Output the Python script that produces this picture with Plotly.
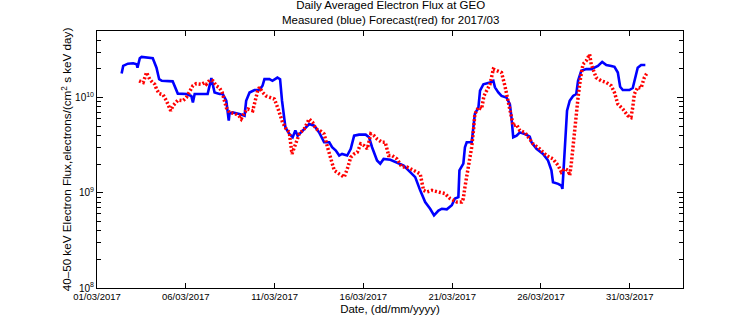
import pandas as pd
import plotly.graph_objects as go

# days since 2017-03-01 00:00 UT and flux (electrons/(cm^2 s keV day))
meas_days = [1.386, 1.476, 1.740, 2.04, 2.23, 2.28, 2.41, 2.51, 3.14, 3.35, 3.50, 3.65, 4.26, 4.47, 4.55,
             5.05, 5.31, 5.40, 5.50, 5.78, 6.23, 6.44, 6.62, 6.90, 7.07, 7.28, 7.42, 7.46, 7.63, 8.02,
             8.31, 8.40, 8.59, 8.87, 9.15, 9.32, 9.43, 9.71, 9.88, 10.16, 10.31, 10.42, 10.61, 10.83,
             11.02, 11.17, 11.30, 11.49, 11.95, 12.23, 12.51, 12.79, 13.08, 13.24, 13.45, 13.64, 13.80,
             14.09, 14.29, 14.48, 14.76, 15.13, 15.32, 15.49, 15.70, 15.77, 15.95, 16.14, 16.52, 16.89,
             17.27, 17.64, 17.92, 18.20, 18.48, 18.76, 18.98, 19.23, 19.42, 19.70, 19.98, 20.16, 20.35,
             20.41, 20.63, 20.72, 20.82, 21.10, 21.20, 21.28, 21.48, 21.57, 21.76, 22.13, 22.32, 22.41,
             22.60, 22.78, 23.06, 23.25, 23.34, 23.44, 23.63, 23.81, 24.09, 24.37, 24.47, 24.75, 25.12,
             25.40, 25.59, 25.68, 25.97, 26.15, 26.21, 26.28, 26.34, 26.47, 26.62, 26.81, 26.99, 27.09,
             27.27, 27.55, 27.83, 28.02, 28.21, 28.45, 28.68, 28.96, 29.14, 29.33, 29.46, 29.61, 29.98,
             30.17, 30.26, 30.45, 30.64, 30.88]
meas_flux = [17.9e9, 21.5e9, 22.7e9, 22.9e9, 22.4e9, 20.6e9, 25.9e9, 26.7e9, 25.9e9, 20.6e9, 15.6e9, 15.0e9,
             14.8e9, 11.8e9, 11.0e9, 10.9e9, 10.4e9, 8.9e9, 10.9e9, 10.9e9, 10.9e9, 16.0e9, 11.3e9, 10.9e9,
             11.0e9, 9.26e9, 5.72e9, 6.77e9, 6.98e9, 6.72e9, 6.45e9, 9.26e9, 11.3e9, 12.0e9, 12.0e9, 13.3e9,
             15.6e9, 15.6e9, 15.0e9, 16.2e9, 15.6e9, 9.26e9, 4.87e9, 4.15e9, 3.83e9, 4.50e9, 3.98e9, 4.31e9,
             5.28e9, 5.07e9, 4.31e9, 3.39e9, 3.39e9, 3.01e9, 2.78e9, 2.46e9, 2.56e9, 2.46e9, 2.89e9, 3.98e9,
             4.08e9, 4.08e9, 3.83e9, 3.01e9, 2.27e9, 2.18e9, 2.02e9, 2.27e9, 2.22e9, 2.09e9, 1.93e9, 1.65e9,
             1.46e9, 1.06e9, 0.80e9, 0.68e9, 0.58e9, 0.65e9, 0.68e9, 0.67e9, 0.74e9, 0.87e9, 0.90e9, 1.72e9,
             2.02e9, 3.01e9, 3.39e9, 3.39e9, 5.07e9, 6.72e9, 7.88e9, 11.8e9, 13.8e9, 14.4e9, 15.0e9, 12.8e9,
             11.3e9, 10.4e9, 10.0e9, 8.55e9, 6.19e9, 3.83e9, 3.98e9, 4.31e9, 4.15e9, 3.89e9, 3.39e9, 2.89e9,
             2.56e9, 2.18e9, 1.72e9, 1.29e9, 1.24e9, 1.19e9, 1.10e9, 1.86e9, 3.53e9, 7.28e9, 9.26e9, 10.4e9,
             10.9e9, 15.0e9, 19.1e9, 19.9e9, 19.9e9, 20.6e9, 21.5e9, 23.7e9, 22.0e9, 21.5e9, 21.0e9, 18.3e9,
             13.0e9, 12.0e9, 12.0e9, 12.6e9, 15.0e9, 20.6e9, 22.0e9, 22.0e9]

fcst_days = [2.37, 2.60, 2.79, 2.97, 3.13, 3.25, 3.35, 3.50, 3.72, 3.91, 4.15, 4.28, 4.56, 4.84, 5.03, 5.22,
             5.40, 5.59, 5.88, 6.06, 6.16, 6.34, 6.53, 6.72, 6.90, 7.05, 7.18, 7.28, 7.46, 7.74, 7.99, 8.12,
             8.31, 8.49, 8.77, 8.96, 9.05, 9.15, 9.33, 9.52, 9.80, 9.99, 10.17, 10.45, 10.65, 10.83, 10.98,
             11.21, 11.39, 11.67, 11.95, 12.14, 12.33, 12.61, 12.79, 12.98, 13.17, 13.36, 13.64, 13.92,
             14.10, 14.29, 14.48, 14.66, 14.85, 15.04, 15.22, 15.42, 15.60, 15.77, 16.05, 16.23, 16.33,
             16.42, 16.61, 16.89, 17.17, 17.45, 17.83, 18.20, 18.39, 18.57, 18.86, 19.23, 19.60, 19.88,
             20.26, 20.54, 20.63, 20.72, 20.92, 21.10, 21.20, 21.28, 21.48, 21.66, 21.79, 21.94, 22.13,
             22.32, 22.60, 22.78, 22.97, 23.16, 23.34, 23.44, 23.63, 23.81, 24.09, 24.37, 24.56, 24.93,
             25.31, 25.68, 25.97, 26.15, 26.34, 26.53, 26.62, 26.71, 26.81, 26.90, 26.99, 27.09, 27.22,
             27.37, 27.55, 27.74, 27.83, 28.11, 28.39, 28.68, 28.96, 29.14, 29.33, 29.61, 29.89, 30.07,
             30.17, 30.26, 30.45, 30.64, 30.82, 30.96]
fcst_flux = [15.0e9, 14.4e9, 18.3e9, 15.6e9, 14.4e9, 13.8e9, 12.3e9, 11.0e9, 10.7e9, 9.26e9, 7.28e9, 8.2e9,
             9.4e9, 9.26e9, 10.0e9, 11.8e9, 13.3e9, 14.0e9, 13.8e9, 14.4e9, 13.8e9, 15.2e9, 15.0e9, 13.3e9,
             12.6e9, 11.3e9, 9.26e9, 7.88e9, 6.98e9, 6.82e9, 6.45e9, 5.96e9, 6.98e9, 7.58e9, 7.28e9, 10.0e9,
             11.8e9, 12.8e9, 11.3e9, 10.4e9, 10.0e9, 9.65e9, 7.88e9, 5.49e9, 4.69e9, 4.31e9, 2.56e9, 3.26e9,
             4.15e9, 4.69e9, 5.96e9, 5.49e9, 4.69e9, 4.42e9, 4.15e9, 3.01e9, 2.18e9, 1.72e9, 1.58e9, 1.46e9,
             1.79e9, 2.36e9, 2.56e9, 2.67e9, 3.26e9, 3.13e9, 2.89e9, 4.15e9, 3.98e9, 3.68e9, 3.39e9, 3.39e9,
             2.89e9, 2.46e9, 2.46e9, 2.27e9, 1.86e9, 1.86e9, 1.72e9, 1.58e9, 1.06e9, 1.02e9, 1.06e9, 1.02e9,
             0.98e9, 0.87e9, 0.80e9, 0.80e9, 0.87e9, 1.15e9, 1.86e9, 3.01e9, 4.50e9, 6.72e9, 7.88e9, 7.58e9,
             10.4e9, 11.8e9, 13.8e9, 19.9e9, 19.1e9, 18.3e9, 13.3e9, 9.26e9, 6.45e9, 5.07e9, 5.19e9, 4.50e9,
             4.31e9, 3.68e9, 3.26e9, 2.89e9, 2.46e9, 2.27e9, 1.93e9, 1.65e9, 1.79e9, 1.72e9, 1.52e9, 2.02e9,
             3.26e9, 4.87e9, 7.28e9, 10.0e9, 15.6e9, 22.4e9, 24.3e9, 28.5e9, 22.4e9, 16.2e9, 15.0e9, 14.4e9,
             13.3e9, 11.3e9, 8.55e9, 7.58e9, 6.45e9, 6.19e9, 7.88e9, 10.9e9, 12.8e9, 12.6e9, 16.2e9, 17.9e9]

x_tick_dates = ["2017-03-01", "2017-03-06", "2017-03-11", "2017-03-16", "2017-03-21", "2017-03-26", "2017-03-31"]
x_tick_text = ["01/03/2017", "06/03/2017", "11/03/2017", "16/03/2017", "21/03/2017", "26/03/2017", "31/03/2017"]
y_major_ticks = [1e8, 1e9, 1e10]
y_major_text = ["10<sup>8</sup>", "10<sup>9</sup>", "10<sup>10</sup>"]
y_minor_ticks = [2e8, 3e8, 4e8, 5e8, 6e8, 7e8, 8e8, 9e8,
                 2e9, 3e9, 4e9, 5e9, 6e9, 7e9, 8e9, 9e9,
                 2e10, 3e10, 4e10]

t0 = pd.Timestamp("2017-03-01")
meas_t = t0 + pd.to_timedelta(meas_days, unit="D")
fcst_t = t0 + pd.to_timedelta(fcst_days, unit="D")

FONT = "Liberation Sans, Arial, sans-serif"
Y_RANGE = [8, 10.699]

fig = go.Figure()
# invisible copy on the overlay axis so that its minor ticks get drawn
fig.add_trace(go.Scatter(x=meas_t, y=meas_flux, yaxis="y2", mode="lines",
                         line=dict(color="rgba(0,0,0,0)", width=0), opacity=0,
                         hoverinfo="skip", showlegend=False))
fig.add_trace(go.Scatter(x=meas_t, y=meas_flux, mode="lines",
                         line=dict(color="#0000ff", width=2.6), name="Measured"))
fig.add_trace(go.Scatter(x=fcst_t, y=fcst_flux, mode="lines",
                         line=dict(color="#ff0000", width=3.5, dash="2px,2px"), name="Forecast"))

fig.update_layout(
    width=756, height=324,
    margin=dict(l=97, r=73, t=31, b=36),
    paper_bgcolor="white", plot_bgcolor="white",
    showlegend=False,
    font=dict(family=FONT, size=10, color="black"),
    annotations=[dict(
        text="Daily Averaged Electron Flux at GEO<br>Measured (blue) Forecast(red) for 2017/03",
        xref="paper", yref="paper", x=0.5, y=1, xanchor="center", yanchor="bottom",
        yshift=3, showarrow=False, align="center",
        font=dict(family=FONT, size=11.5, color="black"))],
    xaxis=dict(
        type="date", range=["2017-03-01", "2017-04-03"],
        tickvals=x_tick_dates, ticktext=x_tick_text,
        ticks="inside", ticklen=5, tickcolor="black", tickwidth=1,
        showline=True, linecolor="black", linewidth=1, mirror="ticks",
        showgrid=False, zeroline=False,
        tickfont=dict(family=FONT, size=9.5),
        title=dict(text="Date, (dd/mm/yyyy)", font=dict(family=FONT, size=11.5), standoff=3),
    ),
    yaxis=dict(
        type="log", range=Y_RANGE,
        tickmode="array", tickvals=y_major_ticks, ticktext=y_major_text,
        ticks="inside", ticklen=6, tickcolor="black", tickwidth=1,
        showline=True, linecolor="black", linewidth=1, mirror="ticks",
        showgrid=False, zeroline=False,
        tickfont=dict(family=FONT, size=10),
        title=dict(text="40–50 keV Electron Flux,electrons/(cm<sup>2</sup> s keV day)",
                   font=dict(family=FONT, size=11.7), standoff=0),
    ),
    yaxis2=dict(
        type="log", range=Y_RANGE, overlaying="y", side="left", anchor="x",
        tickmode="array", tickvals=y_minor_ticks, showticklabels=False,
        ticks="inside", ticklen=4, tickcolor="black", tickwidth=1,
        showline=False, mirror="ticks", showgrid=False, zeroline=False,
    ),
)

fig.write_html("out.html")
